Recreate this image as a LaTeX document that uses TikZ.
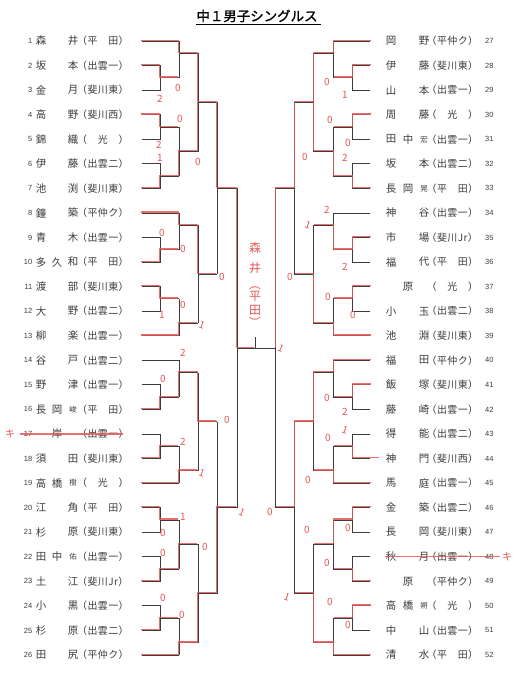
\documentclass[tikz,border=0pt]{standalone}
\usepackage{fontspec}
\setmainfont{Noto Sans CJK JP}
\newfontfamily\numfont{Liberation Sans}
\newcommand\Y[1]{\fpeval{41+((#1)-1)*24.56}}
\newcommand\sm[1]{{\fontsize{7.5}{8}\selectfont #1}}
\definecolor{ink}{RGB}{60,60,60}
\definecolor{pen}{RGB}{230,85,85}
\tikzset{
  bl/.style={draw=ink, line width=0.8bp},
  rd/.style={draw=pen, line width=1.3bp, opacity=0.85, line join=round},
  rdl/.style={rd, xshift=-0.8bp, yshift=0.8bp},
  rdr/.style={rd, xshift=0.8bp, yshift=0.8bp},
  nmst/.style={inner sep=0, text=ink, font=\fontsize{10.5}{11}\selectfont},
  scst/.style={inner sep=0, text=ink, font=\fontsize{10}{11}\selectfont\addfontfeature{LetterSpace=4}},
  numst/.style={inner sep=0, text=ink, font=\numfont\fontsize{7.5}{8}\selectfont},
  pt/.style={inner sep=0, text=pen, font=\fontsize{10}{10}\selectfont},
  big/.style={inner sep=0, text=pen, font=\fontsize{12}{12}\selectfont}
}
% left row
\newcommand\LRow[6]{%
  \node[numst, anchor=east] (ln#1) at (32.5,\Y{#1}) {#2};
  \node[nmst] (la#1) at (41,\Y{#1}) {#3};
  \node[nmst] (lb#1) at (57,\Y{#1}) {#4};
  \node[nmst] (lc#1) at (73,\Y{#1}) {#5};
  \node[scst, anchor=west] (ls#1) at (77,\Y{#1}) {#6};}
\newcommand\RRow[6]{%
  \node[nmst] (ra#1) at (391,\Y{#1}) {#3};
  \node[nmst] (rb#1) at (408,\Y{#1}) {#4};
  \node[nmst] (rc#1) at (424,\Y{#1}) {#5};
  \node[scst, anchor=west] (rs#1) at (426.5,\Y{#1}) {#6};
  \node[numst, anchor=west] (rn#1) at (485,\Y{#1}) {#2};}
% bracket pieces
\newcommand\bye[1]{\draw[bl] (\ca,\Y{#1}) -- (\cc,\Y{#1});}
\newcommand\pair[1]{\draw[bl] (\ca,\Y{#1}) -- (\cb,\Y{#1}) -- (\cb,\Y{#1+1}) -- (\ca,\Y{#1+1});
  \draw[bl] (\cb,\Y{#1+0.5}) -- (\cc,\Y{#1+0.5});}
\newcommand\vj[5]{\draw[bl] (#1,\Y{#2}) -- (#1,\Y{#3}); \draw[bl] (#1,\Y{#4}) -- (#5,\Y{#4});}
\newcommand\half[6]{%
  \def\ca{#1}\def\cb{#2}\def\cc{#3}\def\cd{#4}\def\ce{#5}\def\cf{#6}%
  \bye{1}\pair{2}\vj{\cc}{1}{2.5}{1.5}{\cd}%
  \pair{4}\pair{6}\vj{\cc}{4.5}{6.5}{5.5}{\cd}%
  \vj{\cd}{1.5}{5.5}{3.5}{\ce}%
  \bye{8}\pair{9}\vj{\cc}{8}{9.5}{8.5}{\cd}%
  \pair{11}\bye{13}\vj{\cc}{11.5}{13}{12.5}{\cd}%
  \vj{\cd}{8.5}{12.5}{10.5}{\ce}%
  \vj{\ce}{3.5}{10.5}{7}{\cf}%
  \bye{14}\pair{15}\vj{\cc}{14}{15.5}{14.5}{\cd}%
  \pair{17}\bye{19}\vj{\cc}{17.5}{19}{18.5}{\cd}%
  \vj{\cd}{14.5}{18.5}{16.5}{\ce}%
  \pair{20}\pair{22}\vj{\cc}{20.5}{22.5}{21.5}{\cd}%
  \pair{24}\bye{26}\vj{\cc}{24.5}{26}{25.5}{\cd}%
  \vj{\cd}{21.5}{25.5}{23.5}{\ce}%
  \vj{\ce}{16.5}{23.5}{20}{\cf}%
  \draw[bl] (\cf,\Y{7}) -- (\cf,\Y{20});}
\begin{document}
\begin{tikzpicture}[x=1bp,y=-1bp]
\useasboundingbox[fill=white] (0,0) rectangle (520,673);
% title
\node[inner sep=0, text=black, font=\fontsize{13.5}{14}\selectfont\addfontfeature{FakeBold=1.2}] (title) at (257,16) {中１男子シングルス};
\draw[black, line width=0.9bp] (title.south west) ++(0,2.5) -- ++(125,0);
% brackets
\half{142}{160}{179}{198}{217}{237}
\half{370}{352}{333}{313}{294}{275}
\draw[bl] (237,\Y{13.5}) -- (275,\Y{13.5});
\draw[bl] (255,\Y{13.5}) -- (255,337);
% ---- red paths, left ----
\draw[rdl] (142,\Y{1})--(179,\Y{1})--(179,\Y{1.5})--(198,\Y{1.5})--(198,\Y{3.5})--(217,\Y{3.5})--(217,\Y{7})--(237,\Y{7})--(237,\Y{13.5})--(255,\Y{13.5});
\draw[rdl] (142,\Y{2})--(160,\Y{2})--(160,\Y{2.5})--(179,\Y{2.5});
\draw[rdl] (142,\Y{4})--(160,\Y{4})--(160,\Y{4.5})--(179,\Y{4.5});
\draw[rdl] (142,\Y{7})--(160,\Y{7})--(160,\Y{6.5})--(179,\Y{6.5})--(179,\Y{5.5})--(198,\Y{5.5})--(198,\Y{3.5});
\draw[rdl] (142,\Y{8})--(179,\Y{8})--(179,\Y{8.5})--(198,\Y{8.5})--(198,\Y{10.5})--(217,\Y{10.5});
\draw[rdl] (142,\Y{10})--(160,\Y{10})--(160,\Y{9.5})--(179,\Y{9.5});
\draw[rdl] (142,\Y{11})--(160,\Y{11})--(160,\Y{11.5})--(179,\Y{11.5});
\draw[rdl] (142,\Y{13})--(179,\Y{13})--(179,\Y{12.5})--(198,\Y{12.5});
\draw[rdl] (142,\Y{16})--(160,\Y{16})--(160,\Y{15.5})--(179,\Y{15.5})--(179,\Y{14.5})--(198,\Y{14.5})--(198,\Y{16.5})--(217,\Y{16.5});
\draw[rdl] (142,\Y{18})--(160,\Y{18})--(160,\Y{17.5})--(179,\Y{17.5});
\draw[rdl] (142,\Y{19})--(179,\Y{19})--(179,\Y{18.5})--(198,\Y{18.5});
\draw[rdl] (142,\Y{20})--(160,\Y{20})--(160,\Y{20.5})--(179,\Y{20.5});
\draw[rdl] (142,\Y{23})--(160,\Y{23})--(160,\Y{22.5})--(179,\Y{22.5})--(179,\Y{21.5})--(198,\Y{21.5});
\draw[rdl] (142,\Y{25})--(160,\Y{25})--(160,\Y{24.5})--(179,\Y{24.5});
\draw[rdl] (142,\Y{26})--(179,\Y{26})--(179,\Y{25.5})--(198,\Y{25.5})--(198,\Y{23.5})--(217,\Y{23.5})--(217,\Y{20})--(237,\Y{20});
% ---- red paths, right ----
\draw[rdr] (370,\Y{1})--(333,\Y{1})--(333,\Y{1.5})--(313,\Y{1.5})--(313,\Y{3.5})--(294,\Y{3.5})--(294,\Y{7})--(275,\Y{7})--(275,\Y{13.5});
\draw[rdr] (370,\Y{2})--(352,\Y{2})--(352,\Y{2.5})--(333,\Y{2.5});
\draw[rdr] (370,\Y{4})--(352,\Y{4})--(352,\Y{4.5})--(333,\Y{4.5});
\draw[rdr] (370,\Y{7})--(352,\Y{7})--(352,\Y{6.5})--(333,\Y{6.5})--(333,\Y{5.5})--(313,\Y{5.5})--(313,\Y{3.5});
\draw[rdr] (370,\Y{9})--(352,\Y{9})--(352,\Y{9.5})--(333,\Y{9.5})--(333,\Y{8.5})--(313,\Y{8.5});
\draw[rdr] (370,\Y{11})--(352,\Y{11})--(352,\Y{11.5})--(333,\Y{11.5});
\draw[rdr] (370,\Y{13})--(333,\Y{13})--(333,\Y{12.5})--(313,\Y{12.5})--(313,\Y{10.5})--(294,\Y{10.5});
\draw[rdr] (370,\Y{14})--(333,\Y{14})--(333,\Y{14.5})--(313,\Y{14.5})--(313,\Y{16.5})--(294,\Y{16.5})--(294,\Y{20})--(275,\Y{20});
\draw[rdr] (370,\Y{15})--(352,\Y{15})--(352,\Y{15.5})--(333,\Y{15.5});
\draw[rdr] (378,\Y{18})--(352,\Y{18})--(352,\Y{17.5})--(333,\Y{17.5});
\draw[rdr] (370,\Y{19})--(333,\Y{19})--(333,\Y{18.5})--(313,\Y{18.5});
\draw[rdr] (370,\Y{20})--(352,\Y{20})--(352,\Y{20.5})--(333,\Y{20.5})--(333,\Y{21.5})--(313,\Y{21.5});
\draw[rdr] (370,\Y{23})--(352,\Y{23})--(352,\Y{22.5})--(333,\Y{22.5});
\draw[rdr] (370,\Y{24})--(352,\Y{24})--(352,\Y{24.5})--(333,\Y{24.5});
\draw[rdr] (370,\Y{26})--(333,\Y{26})--(333,\Y{25.5})--(313,\Y{25.5})--(313,\Y{23.5})--(294,\Y{23.5});
% left names
\LRow{1}{1}{森}{}{井}{（平　田）}
\LRow{2}{2}{坂}{}{本}{（出雲一）}
\LRow{3}{3}{金}{}{月}{（斐川東）}
\LRow{4}{4}{高}{}{野}{（斐川西）}
\LRow{5}{5}{錦}{}{織}{（　光　）}
\LRow{6}{6}{伊}{}{藤}{（出雲二）}
\LRow{7}{7}{池}{}{渕}{（斐川東）}
\LRow{8}{8}{鐘}{}{築}{（平仲ク）}
\LRow{9}{9}{青}{}{木}{（出雲一）}
\LRow{10}{10}{多}{久}{和}{（平　田）}
\LRow{11}{11}{渡}{}{部}{（斐川東）}
\LRow{12}{12}{大}{}{野}{（出雲二）}
\LRow{13}{13}{柳}{}{楽}{（出雲一）}
\LRow{14}{14}{谷}{}{戸}{（出雲二）}
\LRow{15}{15}{野}{}{津}{（出雲一）}
\LRow{16}{16}{長}{岡}{\sm{峻}}{（平　田）}
\LRow{17}{17}{}{岸}{}{（出雲一）}
\LRow{18}{18}{須}{}{田}{（斐川東）}
\LRow{19}{19}{高}{橋}{\sm{樹}}{（　光　）}
\LRow{20}{20}{江}{}{角}{（平　田）}
\LRow{21}{21}{杉}{}{原}{（斐川東）}
\LRow{22}{22}{田}{中}{\sm{佑}}{（出雲一）}
\LRow{23}{23}{土}{}{江}{（斐川Jr）}
\LRow{24}{24}{小}{}{黒}{（出雲一）}
\LRow{25}{25}{杉}{}{原}{（出雲二）}
\LRow{26}{26}{田}{}{尻}{（平仲ク）}
% right names
\RRow{1}{27}{岡}{}{野}{（平仲ク）}
\RRow{2}{28}{伊}{}{藤}{（斐川東）}
\RRow{3}{29}{山}{}{本}{（出雲一）}
\RRow{4}{30}{周}{}{藤}{（　光　）}
\RRow{5}{31}{田}{中}{\sm{宏}}{（出雲一）}
\RRow{6}{32}{坂}{}{本}{（出雲二）}
\RRow{7}{33}{長}{岡}{\sm{晃}}{（平　田）}
\RRow{8}{34}{神}{}{谷}{（出雲一）}
\RRow{9}{35}{市}{}{場}{（斐川Jr）}
\RRow{10}{36}{福}{}{代}{（平　田）}
\RRow{11}{37}{}{原}{}{（　光　）}
\RRow{12}{38}{小}{}{玉}{（出雲二）}
\RRow{13}{39}{池}{}{淵}{（斐川東）}
\RRow{14}{40}{福}{}{田}{（平仲ク）}
\RRow{15}{41}{飯}{}{塚}{（斐川東）}
\RRow{16}{42}{藤}{}{崎}{（出雲一）}
\RRow{17}{43}{得}{}{能}{（出雲二）}
\RRow{18}{44}{神}{}{門}{（斐川西）}
\RRow{19}{45}{馬}{}{庭}{（出雲一）}
\RRow{20}{46}{金}{}{築}{（出雲二）}
\RRow{21}{47}{長}{}{岡}{（斐川東）}
\RRow{22}{48}{秋}{}{月}{（出雲一）}
\RRow{23}{49}{}{原}{}{（平仲ク）}
\RRow{24}{50}{高}{橋}{\sm{朔}}{（　光　）}
\RRow{25}{51}{中}{}{山}{（出雲一）}
\RRow{26}{52}{清}{}{水}{（平　田）}
% strike-outs
\draw[rd] (20,\Y{17}) -- (123,\Y{17});
\node[pt] (kL) at (10,\Y{17}) {キ};
\draw[rd] (385,\Y{22}) -- (500,\Y{22});
\node[pt] (kR) at (507,\Y{22}) {キ};
% winner
\node[big] (w1) at (255,248) {森};
\node[big] (w2) at (255,268) {井};
\node[big, rotate=-90] (w3) at (255,284) {（};
\node[big] (w4) at (255,296) {平};
\node[big] (w5) at (255,310) {田};
\node[big, rotate=-90] (w6) at (255,322) {）};
% scores left
\node[pt] (s1) at (178,88) {0};
\node[pt] (s2) at (160,99) {2};
\node[pt] (s3) at (180,119) {0};
\node[pt] (s4) at (159,145) {2};
\node[pt] (s5) at (160,158) {1};
\node[pt] (s6) at (198,162) {0};
\node[pt] (s7) at (162,233) {0};
\node[pt] (s8) at (183,249) {0};
\node[pt] (s9) at (222,277) {0};
\node[pt] (s10) at (183,305) {0};
\node[pt] (s11) at (162,315) {1};
\node[pt, rotate=-20] (s12) at (202,325) {1};
\node[pt] (s13) at (183,353) {2};
\node[pt] (s14) at (163,379) {0};
\node[pt] (s15) at (227,420) {0};
\node[pt] (s16) at (183,442) {2};
\node[pt, rotate=-20] (s17) at (202,473) {1};
\node[pt, rotate=-25] (s18) at (242,512) {1};
\node[pt] (s19) at (183,517) {1};
\node[pt] (s20) at (163,533) {0};
\node[pt] (s21) at (163,553) {0};
\node[pt] (s22) at (205,547) {0};
\node[pt] (s23) at (163,598) {0};
\node[pt] (s24) at (182,615) {0};
% scores right
\node[pt] (t1) at (327,82) {0};
\node[pt] (t2) at (345,95) {1};
\node[pt] (t3) at (330,120) {0};
\node[pt] (t4) at (348,143) {0};
\node[pt] (t5) at (305,157) {0};
\node[pt] (t6) at (345,158) {2};
\node[pt] (t7) at (327,210) {2};
\node[pt, rotate=-20] (t8) at (308,225) {1};
\node[pt] (t9) at (345,267) {2};
\node[pt] (t10) at (290,277) {0};
\node[pt] (t11) at (328,297) {0};
\node[pt] (t12) at (353,315) {0};
\node[pt, rotate=-25] (t13) at (281,348) {1};
\node[pt] (t14) at (327,398) {0};
\node[pt] (t15) at (345,412) {2};
\node[pt] (t16) at (328,438) {0};
\node[pt, rotate=-20] (t17) at (345,430) {1};
\node[pt] (t18) at (308,480) {0};
\node[pt] (t19) at (270,512) {0};
\node[pt] (t20) at (307,530) {0};
\node[pt] (t21) at (348,528) {0};
\node[pt] (t22) at (327,563) {0};
\node[pt, rotate=-20] (t23) at (287,597) {1};
\node[pt] (t24) at (330,602) {0};
\node[pt] (t25) at (348,625) {0};
\end{tikzpicture}
\end{document}
